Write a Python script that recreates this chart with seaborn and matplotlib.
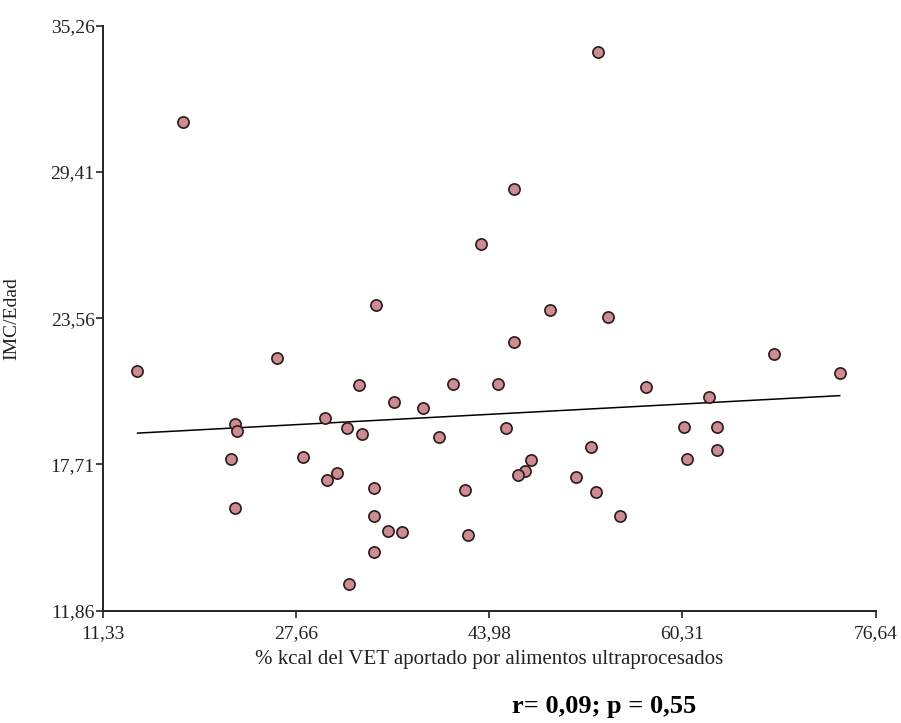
import numpy as np
import pandas as pd
import seaborn as sb
import matplotlib.pyplot as plt

# % kcal del VET aportado por alimentos ultraprocesados
x_ultra = [18.12, 34.38, 53.17, 46.07, 43.25, 49.11, 54.01,
           14.23, 26.07, 33.00, 35.95, 38.38, 40.89, 30.09, 22.51, 22.63,
           31.93, 33.25, 39.73, 22.17, 28.21, 30.24, 31.08, 34.26, 22.51,
           34.26, 35.42, 36.57, 34.26, 32.15,
           46.07, 68.04, 73.62, 44.74, 57.20, 62.52, 45.37, 60.46, 63.25,
           52.55, 63.25, 60.69, 47.53, 47.00, 46.43, 51.28, 52.96, 55.00,
           41.93, 42.18]
# IMC/Edad
y_imc = [31.40, 24.08, 34.22, 28.74, 26.54, 23.89, 23.61,
         21.46, 21.98, 20.89, 20.20, 19.98, 20.94, 19.56, 19.32, 19.05,
         19.16, 18.93, 18.82, 17.94, 18.01, 17.08, 17.37, 16.78, 15.98,
         15.64, 15.06, 15.01, 14.20, 12.93,
         22.62, 22.12, 21.36, 20.94, 20.82, 20.42, 19.17, 19.22, 19.22,
         18.42, 18.29, 17.93, 17.89, 17.44, 17.30, 17.19, 16.62, 15.64,
         16.68, 14.89]

xticks = [11.33, 27.66, 43.98, 60.31, 76.64]
yticks = [11.86, 17.71, 23.56, 29.41, 35.26]

df = pd.DataFrame({"x": x_ultra, "y": y_imc})

sb.set_style("ticks")
plt.rcParams['font.family'] = ['Liberation Serif', 'DejaVu Serif']

fig = plt.figure(figsize=(9.01, 7.23), dpi=100)
ax = fig.add_axes([0.1143, 0.1553, 0.8576, 0.8092])

sb.regplot(data=df, x="x", y="y", ax=ax, ci=None,
           scatter_kws=dict(s=65, color="#cc8c92", edgecolor="#2a1a1a",
                            linewidths=1.2, alpha=1, zorder=3),
           line_kws=dict(color="black", lw=1.1, zorder=2))

ax.set_xlim(xticks[0], xticks[-1])
ax.set_ylim(yticks[0], yticks[-1])
ax.set_xticks(xticks)
ax.set_yticks(yticks)
ax.set_xticklabels([f"{v:.2f}".replace(".", ",") for v in xticks])
ax.set_yticklabels([f"{v:.2f}".replace(".", ",") for v in yticks])
ax.tick_params(labelsize=14, colors="#222222", length=5, width=1.2)
ax.tick_params(axis="x", pad=5)
ax.tick_params(axis="y", pad=1)
for s in ["left", "bottom"]:
    ax.spines[s].set_linewidth(1.4)
    ax.spines[s].set_color("#222222")
sb.despine(ax=ax)

ax.set_xlabel("% kcal del VET aportado por alimentos ultraprocesados",
              fontsize=15, color="#222222", labelpad=6)
ax.set_ylabel("IMC/Edad", fontsize=14, color="#222222")
ax.yaxis.set_label_coords(-0.107, 0.5)

fig.text(0.670, 0.0138, "r= 0,09; p = 0,55", fontsize=19, fontweight="bold",
         ha="center", va="baseline", color="black")

fig.savefig("out.png", dpi=100)
